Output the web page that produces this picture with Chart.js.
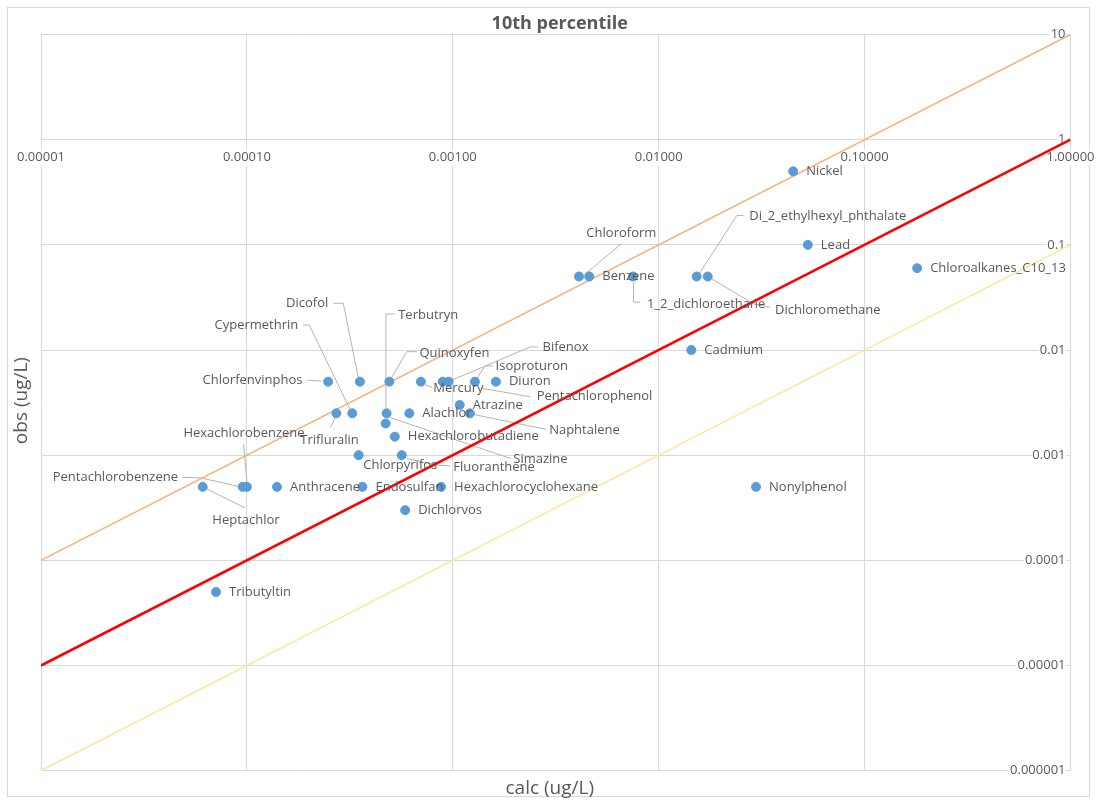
<!DOCTYPE html>
<html lang="en">
<head>
<meta charset="UTF-8">
<title>10th percentile</title>
<style>
    html, body {
        margin: 0;
        padding: 0;
        background: #fff;
    }
    #chart-container {
        position: relative;
        width: 1097px;
        height: 804px;
    }
</style>
</head>
<body>
<div id="chart-container">
    <canvas id="percentileChart" width="1097" height="804"></canvas>
</div>

<script src="https://cdn.jsdelivr.net/npm/chart.js"></script>
<script>
    // substances with calculated (x) and observed (y) 10th percentile, ug/L
    const substances = [
        'Nickel', 'Lead', 'Chloroalkanes_C10_13', 'Chloroform', 'Benzene',
        '1_2_dichloroethane', 'Di_2_ethylhexyl_phthalate', 'Dichloromethane', 'Cadmium', 'Nonylphenol',
        'Chlorfenvinphos', 'Dicofol', 'Quinoxyfen', 'Mercury', 'Pentachlorophenol',
        'Bifenox', 'Isoproturon', 'Diuron', 'Trifluralin', 'Cypermethrin',
        'Terbutryn', 'Alachlor', 'Naphtalene', 'Atrazine', 'Simazine',
        'Hexachlorobutadiene', 'Chlorpyrifos', 'Fluoranthene', 'Pentachlorobenzene', 'Heptachlor',
        'Hexachlorobenzene', 'Anthracene', 'Endosulfan', 'Hexachlorocyclohexane', 'Dichlorvos',
        'Tributyltin'
    ];
    const calcValues = [
        0.045, 0.053, 0.18, 0.0041, 0.0046,
        0.0075, 0.0153, 0.0173, 0.0144, 0.0297,
        0.000248, 0.000354, 0.000492, 0.0007, 0.000893,
        0.000955, 0.00128, 0.00162, 0.000272, 0.000325,
        0.000477, 0.000615, 0.00121, 0.00108, 0.000472,
        0.000523, 0.000349, 0.000565, 0.0000954, 0.000061,
        0.0001, 0.00014, 0.000364, 0.000877, 0.000587,
        0.0000708
    ];
    const obsValues = [
        0.5, 0.1, 0.06, 0.05, 0.05,
        0.05, 0.05, 0.05, 0.01, 0.0005,
        0.005, 0.005, 0.005, 0.005, 0.005,
        0.005, 0.005, 0.005, 0.0025, 0.0025,
        0.0025, 0.0025, 0.0025, 0.003, 0.002,
        0.0015, 0.001, 0.001, 0.0005, 0.0005,
        0.0005, 0.0005, 0.0005, 0.0005, 0.0003,
        0.00005
    ];

    const xTicks = [0.00001, 0.0001, 0.001, 0.01, 0.1, 1];
    const xTickLabels = ['0.00001', '0.00010', '0.00100', '0.01000', '0.10000', '1.00000'];
    const yTicks = [0.000001, 0.00001, 0.0001, 0.001, 0.01, 0.1, 1, 10];
    const yTickLabels = ['0.000001', '0.00001', '0.0001', '0.001', '0.01', '0.1', '1', '10'];

    // reference lines: obs = 10 * calc, obs = calc, obs = calc / 10
    const lineCalc = [0.00001, 1];
    const lineTenTimes = [0.0001, 10];
    const lineEqual = [0.00001, 1];
    const lineTenth = [0.000001, 0.1];

    // label placement in pixels from the marker: [dx, dy, align]; default is to the right
    const labelPlacement = {
        'Chlorfenvinphos': [-25.6, -1, 'right'],
        'Dicofol': [-31.7, -78.4, 'right'],
        'Cypermethrin': [-54, -88.3, 'right'],
        'Trifluralin': [-6.8, 26.7, 'center'],
        'Hexachlorobenzene': [-2.9, -53.3, 'center'],
        'Pentachlorobenzene': [-64.7, -9.3, 'right'],
        'Heptachlor': [9.6, 33.4, 'left'],
        'Chloroform': [7.4, -43.3, 'left'],
        '1_2_dichloroethane': [14, 28, 'left'],
        'Di_2_ethylhexyl_phthalate': [52.6, -60.3, 'left'],
        'Dichloromethane': [67.3, 33.3, 'left'],
        'Terbutryn': [11.6, -98.3, 'left'],
        'Quinoxyfen': [30, -28.4, 'left'],
        'Mercury': [12.3, 6.6, 'left'],
        'Pentachlorophenol': [94, 15, 'left'],
        'Bifenox': [93.8, -34, 'left'],
        'Isoproturon': [20.7, -15, 'left'],
        'Naphtalene': [79.3, 17, 'left'],
        'Simazine': [127.6, 36, 'left'],
        'Chlorpyrifos': [4.6, 10, 'left'],
        'Fluoranthene': [51.6, 11.7, 'left']
    };
    // leader lines, pixel offsets from the marker
    const leaderLines = {
        'Chlorfenvinphos': [[-20.6, -1.5], [-6.6, -0.5]],
        'Dicofol': [[-26.7, -78.4], [-16.7, -78.4], [-1.7, -4.4]],
        'Cypermethrin': [[-49, -88.3], [-43, -88.3], [-2.3, -4]],
        'Trifluralin': [[-6, 14.3], [-1, 4.3]],
        'Hexachlorobenzene': [[-3.4, -43.3], [0, -4.5]],
        'Pentachlorobenzene': [[-60, -9.5], [-42, -9], [-4.5, -0.5]],
        'Heptachlor': [[42.3, 21], [3.3, 1.7]],
        'Chloroform': [[42.4, -32.7], [5.7, -2]],
        '1_2_dichloroethane': [[0.6, 5.7], [0.6, 25.7], [7.3, 25.7]],
        'Di_2_ethylhexyl_phthalate': [[46.6, -61], [40, -61], [2.6, -2.7]],
        'Dichloromethane': [[4, 2.3], [45.6, 27.3], [62.3, 30.7]],
        'Terbutryn': [[8.3, -99.3], [-0.7, -99.3], [-0.7, -5]],
        'Quinoxyfen': [[27.4, -30], [17.4, -30], [2.4, -4.4]],
        'Mercury': [[4, 3.3], [11.7, 5.6]],
        'Pentachlorophenol': [[39, 6.6], [87.3, 15]],
        'Bifenox': [[89.5, -34.7], [81.5, -34.7], [3.5, -1.7]],
        'Isoproturon': [[18.3, -15.7], [10, -15.7], [1.7, -2.4]],
        'Naphtalene': [[3.3, 1], [60, 12.7], [76.7, 16]],
        'Simazine': [[4.5, -6], [125, 35]],
        'Fluoranthene': [[5, 3.3], [35, 10], [48.3, 10.7]]
    };

    const textColor = '#595959';
    const gridColor = '#d9d9d9';
    const fontFamily = '"Open Sans", "Noto Sans", sans-serif';

    const chartDecor = {
        id: 'chartDecor',
        beforeDraw(chart) {
            const ctx = chart.ctx;
            ctx.save();
            ctx.fillStyle = '#fff';
            ctx.fillRect(0, 0, chart.width, chart.height);
            ctx.strokeStyle = gridColor;
            ctx.lineWidth = 1;
            ctx.strokeRect(7.5, 7.5, chart.width - 15, chart.height - 15);
            ctx.restore();
        },
        beforeDatasetsDraw(chart) {
            const ctx = chart.ctx;
            const xs = chart.scales.x;
            const ys = chart.scales.y;
            ctx.save();
            ctx.font = '13px ' + fontFamily;
            ctx.textBaseline = 'middle';

            // x tick labels sit under the line obs = 1
            const xRow = ys.getPixelForValue(1) + 18;
            ctx.textAlign = 'center';
            xTicks.forEach((v, i) => {
                const px = xs.getPixelForValue(v);
                const w = ctx.measureText(xTickLabels[i]).width;
                ctx.fillStyle = '#fff';
                ctx.fillRect(px - w / 2 - 1, xRow - 8, w + 2, 16);
                ctx.fillStyle = textColor;
                ctx.fillText(xTickLabels[i], px, xRow);
            });

            // y tick labels sit left of the line calc = 1
            const yCol = xs.getPixelForValue(1) - 5;
            ctx.textAlign = 'right';
            yTicks.forEach((v, i) => {
                const py = ys.getPixelForValue(v);
                const w = ctx.measureText(yTickLabels[i]).width;
                ctx.fillStyle = '#fff';
                ctx.fillRect(yCol - w - 1, py - 8, w + 2, 16);
                ctx.fillStyle = textColor;
                ctx.fillText(yTickLabels[i], yCol, py);
            });

            // leader lines
            const meta = chart.getDatasetMeta(0);
            ctx.strokeStyle = '#b4b4b4';
            ctx.lineWidth = 1;
            substances.forEach((name, i) => {
                const pts = leaderLines[name];
                if (!pts) return;
                const el = meta.data[i];
                ctx.beginPath();
                pts.forEach(([dx, dy], k) => {
                    if (k === 0) ctx.moveTo(el.x + dx, el.y + dy);
                    else ctx.lineTo(el.x + dx, el.y + dy);
                });
                ctx.stroke();
            });
            ctx.restore();
        },
        afterDatasetsDraw(chart) {
            const ctx = chart.ctx;
            const area = chart.chartArea;
            const meta = chart.getDatasetMeta(0);
            ctx.save();
            ctx.fillStyle = textColor;
            ctx.textBaseline = 'middle';
            ctx.font = '13px ' + fontFamily;
            substances.forEach((name, i) => {
                const el = meta.data[i];
                const p = labelPlacement[name] || [13, 0, 'left'];
                ctx.textAlign = p[2];
                ctx.fillText(name, el.x + p[0], el.y + p[1]);
            });

            // titles
            ctx.textAlign = 'center';
            ctx.font = 'bold 18px ' + fontFamily;
            ctx.fillText('10th percentile', (area.left + area.right) / 2 + 4, 24);
            ctx.font = '19px ' + fontFamily;
            ctx.fillText('calc (ug/L)', (area.left + area.right) / 2 - 6, area.bottom + 18);
            ctx.translate(22, (area.top + area.bottom) / 2 - 2);
            ctx.rotate(-Math.PI / 2);
            ctx.fillText('obs (ug/L)', 0, 0);
            ctx.restore();
        }
    };

    const points = substances.map((name, i) => ({ x: calcValues[i], y: obsValues[i] }));
    const toLine = (ys) => lineCalc.map((x, i) => ({ x: x, y: ys[i] }));

    const logAxis = (ticks) => ({
        type: 'logarithmic',
        min: ticks[0],
        max: ticks[ticks.length - 1],
        afterBuildTicks: (scale) => {
            scale.ticks = ticks.map(v => ({ value: v }));
        },
        ticks: { display: false },
        grid: { color: gridColor, lineWidth: 1, drawTicks: false },
        border: { display: false }
    });

    new Chart(document.getElementById('percentileChart'), {
        type: 'scatter',
        data: {
            datasets: [
                {
                    label: 'substances',
                    data: points,
                    backgroundColor: '#5b9bd5',
                    borderColor: '#5b9bd5',
                    pointRadius: 4.5,
                    pointHoverRadius: 4.5
                },
                {
                    label: '10x',
                    data: toLine(lineTenTimes),
                    showLine: true,
                    borderColor: '#f4b183',
                    borderWidth: 1.5,
                    pointRadius: 0
                },
                {
                    label: '1:1',
                    data: toLine(lineEqual),
                    showLine: true,
                    borderColor: '#ff0000',
                    borderWidth: 2.5,
                    pointRadius: 0
                },
                {
                    label: '0.1x',
                    data: toLine(lineTenth),
                    showLine: true,
                    borderColor: '#ffe699',
                    borderWidth: 1.5,
                    pointRadius: 0
                }
            ]
        },
        options: {
            responsive: false,
            animation: false,
            events: [],
            layout: {
                padding: { left: 41, top: 34.5, right: 26.5, bottom: 33.3 }
            },
            plugins: {
                legend: { display: false },
                tooltip: { enabled: false },
                title: { display: false }
            },
            scales: {
                x: logAxis(xTicks),
                y: logAxis(yTicks)
            }
        },
        plugins: [chartDecor]
    });
</script>
</body>
</html>
